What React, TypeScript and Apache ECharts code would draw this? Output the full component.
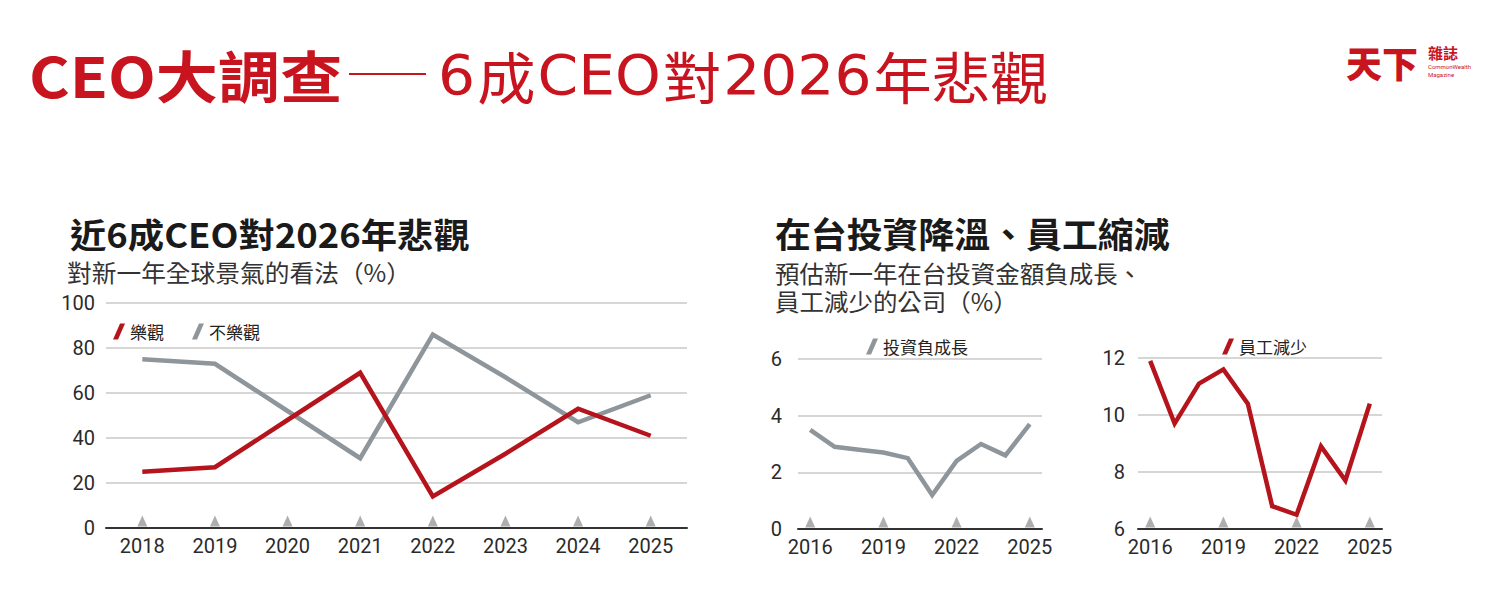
import React, { useEffect, useRef } from "react";
import * as echarts from "echarts";

// Global CEO outlook (%)
const yearsA = ["2018", "2019", "2020", "2021", "2022", "2023", "2024", "2025"];
const optimistic = [25, 27, 48, 69, 14, 33, 53, 41];
const pessimistic = [75, 73, 52, 31, 86, 67, 47, 59];

// Taiwan investment / staff cuts (%)
const yearsB = ["2016", "2017", "2018", "2019", "2020", "2021", "2022", "2023", "2024", "2025"];
const investDown = [3.5, 2.9, 2.8, 2.7, 2.5, 1.2, 2.4, 3.0, 2.6, 3.7];
const staffDown = [11.9, 9.7, 11.1, 11.6, 10.4, 6.8, 6.5, 8.9, 7.7, 10.4];
const markedYearsB = ["2016", "2019", "2022", "2025"];

const RED = "#b5141d";
const TITLE_RED = "#c8141f";
const GRAY = "#8e969b";
const CJK = "'Noto Sans CJK TC', 'Noto Sans CJK JP', sans-serif";
const NUM = "Roboto, 'Noto Sans', sans-serif";
const SLASH = "path://M0,16 L7,0 L12,0 L5,16 Z";

function xAxisOf(gridIndex: number, data: string[], interval: number) {
  return {
    type: "category",
    gridIndex,
    data,
    boundaryGap: true,
    axisLine: { show: true, lineStyle: { color: "#333", width: 2 } },
    axisTick: { show: false },
    axisLabel: { interval, color: "#2a2a2a", fontFamily: NUM, fontSize: 20, margin: 8 },
    splitLine: { show: false },
  };
}

function yAxisOf(gridIndex: number, min: number, max: number, interval: number, margin: number) {
  return {
    type: "value",
    gridIndex,
    min,
    max,
    interval,
    axisLine: { show: false },
    axisTick: { show: false },
    axisLabel: { color: "#2a2a2a", fontFamily: NUM, fontSize: 20, margin },
    splitLine: { lineStyle: { color: "#d6d6d6", width: 2 } },
  };
}

function markers(xAxisIndex: number, cats: string[], base: number) {
  return {
    type: "scatter",
    xAxisIndex,
    yAxisIndex: xAxisIndex,
    data: cats.map((c) => [c, base]),
    symbol: "triangle",
    symbolSize: [10, 11],
    symbolOffset: [0, -7],
    itemStyle: { color: "#9a9a9a" },
    silent: true,
    clip: false,
    z: 1,
  };
}

function lineSeries(name: string, xAxisIndex: number, data: number[], color: string) {
  return {
    type: "line",
    name,
    xAxisIndex,
    yAxisIndex: xAxisIndex,
    data,
    symbol: "none",
    color,
    lineStyle: { color, width: 4.5, join: "miter" },
    z: 3,
  };
}

export default function App() {
  const ref = useRef<HTMLDivElement>(null);

  useEffect(() => {
    if (!ref.current) return;
    const chart = echarts.init(ref.current, null, { renderer: "svg" });

    const legendText = { color: "#222", fontFamily: CJK, fontSize: 17 };

    chart.setOption({
      animation: false,
      backgroundColor: "#ffffff",
      grid: [
        { left: 106, top: 303, width: 581, height: 225 },
        { left: 798, top: 359, width: 244, height: 170 },
        { left: 1138, top: 358, width: 244, height: 171 },
      ],
      xAxis: [xAxisOf(0, yearsA, 0), xAxisOf(1, yearsB, 2), xAxisOf(2, yearsB, 2)],
      yAxis: [yAxisOf(0, 0, 100, 20, 11), yAxisOf(1, 0, 6, 2, 16), yAxisOf(2, 6, 12, 2, 13)],
      legend: [
        {
          data: ["樂觀", "不樂觀"],
          left: 108,
          top: 318,
          icon: SLASH,
          itemWidth: 12,
          itemHeight: 16,
          itemGap: 28,
          textStyle: legendText,
        },
        {
          data: ["投資負成長"],
          left: 861,
          top: 333,
          icon: SLASH,
          itemWidth: 12,
          itemHeight: 16,
          textStyle: legendText,
        },
        {
          data: ["員工減少"],
          left: 1217,
          top: 333,
          icon: SLASH,
          itemWidth: 12,
          itemHeight: 16,
          textStyle: legendText,
        },
      ],
      series: [
        markers(0, yearsA, 0),
        markers(1, markedYearsB, 0),
        markers(2, markedYearsB, 6),
        lineSeries("不樂觀", 0, pessimistic, GRAY),
        lineSeries("樂觀", 0, optimistic, RED),
        lineSeries("投資負成長", 1, investDown, GRAY),
        lineSeries("員工減少", 2, staffDown, RED),
      ],
      graphic: [
        {
          type: "text",
          x: 29,
          y: 73,
          scaleX: 1.11,
          style: {
            text: "CEO大調查",
            font: `bold 56px ${CJK}`,
            fill: TITLE_RED,
            verticalAlign: "middle",
          },
        },
        {
          type: "line",
          shape: { x1: 349, y1: 74, x2: 426, y2: 74 },
          style: { stroke: TITLE_RED, lineWidth: 2 },
        },
        {
          type: "text",
          x: 436,
          y: 74,
          scaleX: 1.04,
          style: {
            text: "{l|6}{c|成}{l|CEO}{c|對}{l|2026}{c|年悲觀}",
            verticalAlign: "middle",
            rich: {
              l: { fontFamily: "'DejaVu Sans', sans-serif", fontSize: 56, fill: TITLE_RED, padding: [0, 2, 0, 2] },
              c: { fontFamily: CJK, fontSize: 56, fill: TITLE_RED },
            },
          },
        },
        // masthead
        {
          type: "text",
          x: 1346,
          y: 62,
          style: { text: "天下", font: `900 36px ${CJK}`, fill: TITLE_RED, verticalAlign: "middle" },
        },
        {
          type: "text",
          x: 1428,
          y: 52,
          style: { text: "雜誌", font: `bold 15px ${CJK}`, fill: TITLE_RED, verticalAlign: "middle" },
        },
        {
          type: "text",
          x: 1428,
          y: 66,
          style: { text: "CommonWealth", font: `6px Roboto`, fill: TITLE_RED, verticalAlign: "middle" },
        },
        {
          type: "text",
          x: 1428,
          y: 74,
          style: { text: "Magazine", font: `6px Roboto`, fill: TITLE_RED, verticalAlign: "middle" },
        },
        // panel headings
        {
          type: "text",
          x: 70,
          y: 233,
          scaleX: 1.07,
          style: { text: "近6成CEO對2026年悲觀", font: `bold 34px ${CJK}`, fill: "#1a1a1a", verticalAlign: "middle" },
        },
        {
          type: "text",
          x: 67,
          y: 272,
          scaleX: 1.03,
          style: { text: "對新一年全球景氣的看法（%）", font: `24px ${CJK}`, fill: "#333", verticalAlign: "middle" },
        },
        {
          type: "text",
          x: 775,
          y: 233,
          scaleX: 1.025,
          style: { text: "在台投資降溫、員工縮減", font: `bold 35px ${CJK}`, fill: "#1a1a1a", verticalAlign: "middle" },
        },
        {
          type: "text",
          x: 775,
          y: 273,
          scaleX: 1.02,
          style: { text: "預估新一年在台投資金額負成長、", font: `24px ${CJK}`, fill: "#333", verticalAlign: "middle" },
        },
        {
          type: "text",
          x: 775,
          y: 301,
          scaleX: 1.02,
          style: { text: "員工減少的公司（%）", font: `24px ${CJK}`, fill: "#333", verticalAlign: "middle" },
        },
      ],
    });

    return () => chart.dispose();
  }, []);

  return (
    <div
      ref={ref}
      style={{ position: "fixed", left: 0, top: 0, width: 1508, height: 599, background: "#fff" }}
    />
  );
}
